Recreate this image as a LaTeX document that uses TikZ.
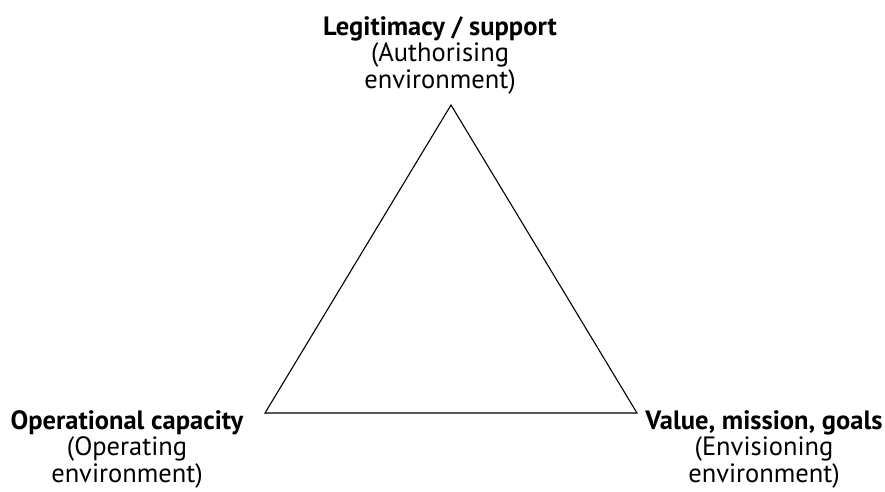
\documentclass[tikz,border=0pt]{standalone}
\usepackage{fontspec}
\setmainfont{PT Sans}
\begin{document}
\begin{tikzpicture}[x=1pt,y=-1pt,
  corner/.style={align=center,inner sep=0pt,font=\fontsize{26.5}{26.5}\selectfont},
  side/.style={draw=black,line width=1.1pt,line join=miter}]
\useasboundingbox (0,0) rectangle (885,491);
\coordinate (top) at (451,105);
\coordinate (left) at (265,413);
\coordinate (right) at (637,413);
\draw[side] (top) -- (left) -- (right) -- cycle;
% base anchor sits on the last line of each label
\node[corner,anchor=base] (legit) at (440,88)
  {\textbf{Legitimacy / support}\\(Authorising\\environment)};
\node[corner,anchor=base] (ops) at (127,482)
  {\textbf{Operational capacity}\\(Operating\\environment)};
\node[corner,anchor=base] (value) at (764,482)
  {\textbf{Value, mission, goals}\\(Envisioning\\environment)};
\end{tikzpicture}
\end{document}
